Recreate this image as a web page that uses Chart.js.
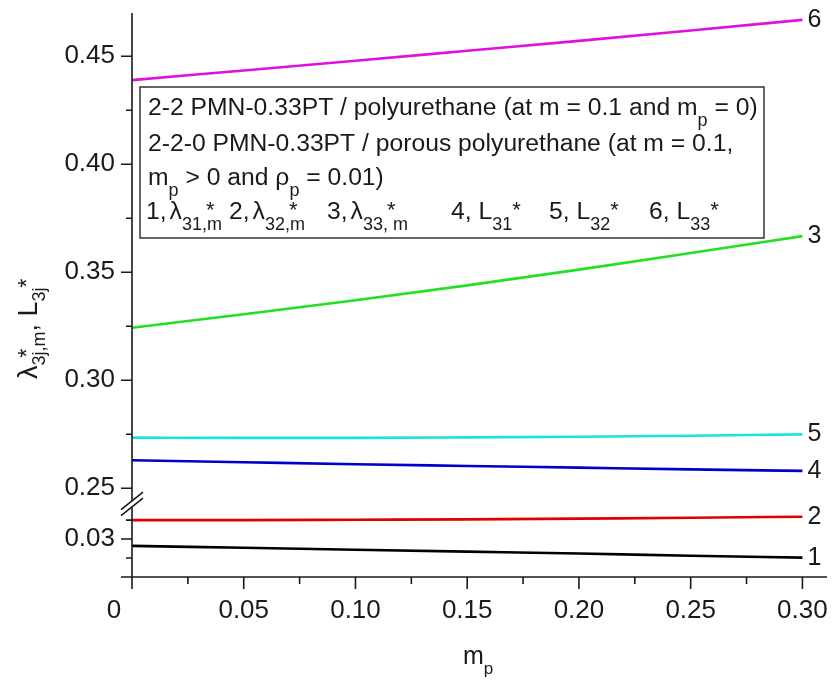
<!DOCTYPE html>
<html>
<head>
<meta charset="utf-8">
<script src="https://cdn.jsdelivr.net/npm/chart.js@4.4.1/dist/chart.umd.min.js"></script>
<style>
  html, body { margin: 0; padding: 0; background: #fff; }
  #wrap { width: 835px; height: 686px; }
</style>
</head>
<body>
<div id="wrap"><canvas id="chart"></canvas></div>
<script>
// m_p values along the x axis
const mp = [0, 0.05, 0.10, 0.15, 0.20, 0.25, 0.30];

// curves on the lower (broken) part of the axis
const lam31 = [0.0282, 0.0277, 0.0272, 0.0267, 0.0262, 0.0256, 0.0251];   // 1
const lam32 = [0.0350, 0.0350, 0.0351, 0.0352, 0.0354, 0.0356, 0.0359];   // 2
// curves on the upper part
const lam33 = [0.3243, 0.3305, 0.3370, 0.3439, 0.3512, 0.3589, 0.3667];   // 3
const L31 = [0.2629, 0.2620, 0.2611, 0.2603, 0.2595, 0.2587, 0.2580];     // 4
const L32 = [0.2734, 0.2733, 0.2733, 0.2735, 0.2738, 0.2743, 0.2749];     // 5
const L33 = [0.4389, 0.4434, 0.4479, 0.4525, 0.4571, 0.4619, 0.4668];     // 6

const xTicks = [0, 0.05, 0.10, 0.15, 0.20, 0.25, 0.30];
const xMinor = [0.025, 0.075, 0.125, 0.175, 0.225, 0.275];
const upTicks = [0.25, 0.30, 0.35, 0.40, 0.45];
const upMinor = [0.275, 0.325, 0.375, 0.425];
const lowTicks = [0.02, 0.03];
const lowMinor = [0.025, 0.035];

const FONT = "'Liberation Sans', Arial, Helvetica, sans-serif";
const INK = '#1a1a1a';

function pts(arr) { return mp.map((x, i) => ({ x: x, y: arr[i] })); }

const series = [
  { label: '1', data: lam31, color: '#000000', axis: 'yLow' },
  { label: '2', data: lam32, color: '#e00000', axis: 'yLow' },
  { label: '3', data: lam33, color: '#22e022', axis: 'yUp' },
  { label: '4', data: L31, color: '#0000cc', axis: 'yUp' },
  { label: '5', data: L32, color: '#14e4e4', axis: 'yUp' },
  { label: '6', data: L33, color: '#e010e0', axis: 'yUp' }
];

// text with sub/superscripts: [text, size, dy, overlapFromPrevStart, kern]
function drawRich(ctx, x, y, parts) {
  let cx = x, prevStart = x;
  parts.forEach(p => {
    const [t, size, dy, over, kern] = p;
    ctx.font = size + 'px ' + FONT;
    if (kern) cx += kern;
    const sx = over != null ? prevStart + over : cx;
    ctx.fillText(t, sx, y + dy);
    const w = ctx.measureText(t).width;
    if (over == null) { prevStart = cx; cx += w; }
    else { cx = Math.max(cx, sx + w); }
  });
}

const TICK_LEN = 11, TICK_PAD = 6, X_TICK_LEN = 12, X_PAD = 6, TICK_FONT = 26;

const decor = {
  id: 'decor',
  afterDraw(chart) {
    const ctx = chart.ctx;
    const a = chart.chartArea;
    const sx = chart.scales.x, su = chart.scales.yUp, sl = chart.scales.yLow;
    ctx.save();
    ctx.strokeStyle = INK;
    ctx.fillStyle = INK;
    ctx.lineWidth = 1.6;

    // axis lines
    ctx.beginPath();
    ctx.moveTo(a.left, a.top); ctx.lineTo(a.left, a.bottom);
    ctx.moveTo(a.left, a.bottom); ctx.lineTo(a.right, a.bottom);
    ctx.stroke();

    // y ticks (outward)
    ctx.beginPath();
    upTicks.forEach(v => { const y = su.getPixelForValue(v); ctx.moveTo(a.left - TICK_LEN, y); ctx.lineTo(a.left, y); });
    upMinor.forEach(v => { const y = su.getPixelForValue(v); ctx.moveTo(a.left - 6, y); ctx.lineTo(a.left, y); });
    lowTicks.forEach(v => { const y = sl.getPixelForValue(v); ctx.moveTo(a.left - TICK_LEN, y); ctx.lineTo(a.left, y); });
    lowMinor.forEach(v => { const y = sl.getPixelForValue(v); ctx.moveTo(a.left - 6, y); ctx.lineTo(a.left, y); });
    // x ticks (downward)
    xTicks.forEach(v => { const x = sx.getPixelForValue(v); ctx.moveTo(x, a.bottom); ctx.lineTo(x, a.bottom + X_TICK_LEN); });
    xMinor.forEach(v => { const x = sx.getPixelForValue(v); ctx.moveTo(x, a.bottom); ctx.lineTo(x, a.bottom + 7); });
    ctx.stroke();

    // axis break between the two y segments
    const yb = su.bottom + 2;
    const ax = a.left;
    ctx.fillStyle = '#ffffff';
    ctx.beginPath();
    ctx.moveTo(ax - 10, yb + 6); ctx.lineTo(ax + 10, yb - 10);
    ctx.lineTo(ax + 10, yb - 4); ctx.lineTo(ax - 10, yb + 12);
    ctx.closePath(); ctx.fill();
    ctx.beginPath();
    ctx.moveTo(ax - 11, yb + 6.5); ctx.lineTo(ax + 11, yb - 11);
    ctx.moveTo(ax - 11, yb + 12.5); ctx.lineTo(ax + 11, yb - 5);
    ctx.stroke();
    ctx.fillStyle = INK;

    // "0" label sits left of its tick
    ctx.font = TICK_FONT + 'px ' + FONT;
    ctx.textAlign = 'center';
    ctx.textBaseline = 'middle';
    ctx.fillText('0', sx.getPixelForValue(0) - 18, a.bottom + X_TICK_LEN + X_PAD + TICK_FONT * 0.6);

    // curve numbers at line ends
    ctx.font = '25px ' + FONT;
    ctx.textAlign = 'left';
    series.forEach((s, i) => {
      const meta = chart.getDatasetMeta(i);
      const last = meta.data[meta.data.length - 1];
      ctx.fillText(s.label, last.x + 5, last.y);
    });

    // legend box
    ctx.textBaseline = 'alphabetic';
    ctx.fillStyle = '#ffffff';
    ctx.fillRect(140, 87, 624, 151);
    ctx.strokeStyle = '#333';
    ctx.lineWidth = 1.5;
    ctx.strokeRect(140, 87, 624, 151);
    ctx.fillStyle = INK;
    const M = 24.7, S = 18, SD = 11;
    drawRich(ctx, 148, 115, [['2-2 PMN-0.33PT / polyurethane (at m = 0.1 and m', M, 0], ['p', S, SD], [' = 0)', M, 0]]);
    drawRich(ctx, 148, 151, [['2-2-0 PMN-0.33PT / porous polyurethane (at m = 0.1,', M, 0]]);
    drawRich(ctx, 148, 185, [['m', M, 0], ['p', S, SD], [' > 0 and \u03c1', M, 0], ['p', S, SD], [' = 0.01)', M, 0]]);
    const items = [
      [146, [['1,', M, 0], ['\u03bb', M, 0, null, 3], ['31,m', S, SD], ['*', 22, -2, 24]]],
      [229, [['2,', M, 0], ['\u03bb', M, 0, null, 3], ['32,m', S, SD], ['*', 22, -2, 24]]],
      [327, [['3,', M, 0], ['\u03bb', M, 0, null, 3], ['33, m', S, SD], ['*', 22, -2, 24]]],
      [451, [['4, L', M, 0], ['31', S, SD], ['*', 22, -2]]],
      [549, [['5, L', M, 0], ['32', S, SD], ['*', 22, -2]]],
      [649, [['6, L', M, 0], ['33', S, SD], ['*', 22, -2]]]
    ];
    items.forEach(it => drawRich(ctx, it[0], 219, it[1]));

    // x axis title
    drawRich(ctx, 463, 664, [['m', 25, 0], ['p', 17, 10]]);

    // y axis title, rotated
    ctx.save();
    ctx.translate(37, 379);
    ctx.rotate(-Math.PI / 2);
    drawRich(ctx, 0, 0, [['\u03bb', 27, 0], ['3j,m', 18, 8], ['*', 23, -2, 8], [', ', 27, 0], ['L', 27, 0], ['3j', 18, 8], ['*', 23, -2]]);
    ctx.restore();

    ctx.restore();
  }
};

new Chart(document.getElementById('chart'), {
  type: 'line',
  data: {
    datasets: series.map(s => ({
      label: s.label,
      data: pts(s.data),
      yAxisID: s.axis,
      borderColor: s.color,
      borderWidth: 2.6,
      pointRadius: 0,
      fill: false,
      cubicInterpolationMode: 'monotone'
    }))
  },
  options: {
    responsive: true, maintainAspectRatio: false, animation: false,
    layout: { padding: { left: 0, top: 13, right: 8, bottom: 0 } },
    plugins: { legend: { display: false }, tooltip: { enabled: false } },
    scales: {
      x: {
        type: 'linear', min: 0, max: 0.311,
        grid: { display: false, drawTicks: true, tickLength: X_TICK_LEN },
        border: { display: false },
        afterBuildTicks: s => { s.ticks = xTicks.map(v => ({ value: v })); },
        afterFit: s => { s.height = 109; s.paddingLeft = 0; s.paddingRight = 0; },
        ticks: {
          padding: X_PAD, autoSkip: false, maxRotation: 0, color: INK,
          font: { size: TICK_FONT, family: FONT },
          callback: v => v === 0 ? '' : v.toFixed(2)
        }
      },
      yLow: {
        type: 'linear', position: 'left', stack: 'v', stackWeight: 76,
        min: 0.02, max: 0.04,
        grid: { display: false, drawTicks: true, tickLength: TICK_LEN },
        border: { display: false },
        afterBuildTicks: s => { s.ticks = lowTicks.map(v => ({ value: v })); },
        afterFit: s => { s.width = 132; s.paddingTop = 0; s.paddingBottom = 0; },
        ticks: {
          padding: TICK_PAD, color: INK, font: { size: TICK_FONT, family: FONT },
          callback: v => Math.abs(v - 0.03) < 1e-9 ? v.toFixed(2) : ''
        }
      },
      yUp: {
        type: 'linear', position: 'left', stack: 'v', stackWeight: 489,
        min: 0.244, max: 0.47,
        grid: { display: false, drawTicks: true, tickLength: TICK_LEN },
        border: { display: false },
        afterBuildTicks: s => { s.ticks = upTicks.map(v => ({ value: v })); },
        afterFit: s => { s.width = 132; s.paddingTop = 0; s.paddingBottom = 0; },
        ticks: {
          padding: TICK_PAD, color: INK, font: { size: TICK_FONT, family: FONT },
          callback: v => v.toFixed(2)
        }
      }
    }
  },
  plugins: [decor]
});
</script>
</body>
</html>
